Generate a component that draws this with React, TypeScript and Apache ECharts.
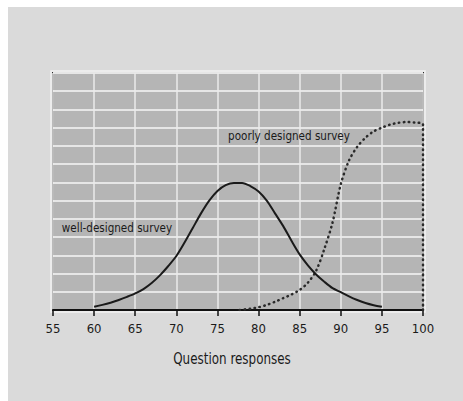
import React, { useEffect, useRef } from "react";
import * as echarts from "echarts";

const xTicks = [55, 60, 65, 70, 75, 80, 85, 90, 95, 100];
const wellX = [60, 61, 62, 63, 64, 65, 66, 67, 68, 69, 70, 71, 72, 73, 74, 75, 76, 77, 78, 79, 80, 81, 82, 83, 84, 85, 86, 87, 88, 89, 90, 91, 92, 93, 94, 95];
const wellY = [0.18, 0.28, 0.4, 0.55, 0.72, 0.91, 1.15, 1.48, 1.9, 2.4, 2.96, 3.7, 4.5, 5.3, 6.0, 6.53, 6.85, 6.97, 6.97, 6.8, 6.5, 6.0, 5.3, 4.6, 3.8, 3.05, 2.45, 1.95, 1.55, 1.2, 0.98, 0.75, 0.55, 0.38, 0.26, 0.18];
const poorX = [77.7, 78, 79, 80, 81, 82, 83, 84, 85, 86, 87, 88, 89, 90, 91, 92, 93, 94, 95, 96, 97, 98, 99, 100, 100];
const poorY = [0, 0.02, 0.07, 0.15, 0.28, 0.45, 0.65, 0.85, 1.1, 1.5, 2.15, 3.35, 4.8, 6.9, 8.2, 8.95, 9.45, 9.8, 10.0, 10.17, 10.27, 10.31, 10.28, 10.19, 0];
const labels = ["well-designed survey", "poorly designed survey"];
const axisTitle = "Question responses";

const FONT = "'Liberation Sans Narrow', 'DejaVu Sans Condensed', sans-serif";

export default function App() {
  const ref = useRef<HTMLDivElement>(null);
  useEffect(() => {
    if (!ref.current) return;
    const chart = echarts.init(ref.current, undefined, { renderer: "svg" });
    chart.setOption({
      animation: false,
      backgroundColor: "#ffffff",
      grid: {
        left: 53,
        right: 40,
        top: 73,
        bottom: 91,
        show: true,
        backgroundColor: "#b5b5b5",
        borderColor: "#2a2a2a",
        borderWidth: 2,
      },
      graphic: [
        {
          type: "rect",
          z: -10,
          silent: true,
          shape: { x: 8, y: 7, width: 455, height: 394 },
          style: { fill: "#dadada" },
        },
        {
          type: "rect",
          z: -5,
          silent: true,
          shape: { x: 51, y: 71, width: 374, height: 241 },
          style: { fill: "none", stroke: "#f2f2f2", lineWidth: 1.5 },
        },
        {
          type: "text",
          z: 10,
          x: 117,
          y: 228,
          scaleX: 0.89,
          style: {
            text: labels[0],
            fill: "#1a1a1a",
            font: `13px ${FONT}`,
            align: "center",
            verticalAlign: "middle",
          },
        },
        {
          type: "text",
          z: 10,
          x: 289,
          y: 136,
          scaleX: 0.89,
          style: {
            text: labels[1],
            fill: "#1a1a1a",
            font: `13px ${FONT}`,
            align: "center",
            verticalAlign: "middle",
          },
        },
        {
          type: "text",
          z: 10,
          x: 232,
          y: 358,
          scaleX: 0.83,
          style: {
            text: axisTitle,
            fill: "#1a1a1a",
            font: `16px ${FONT}`,
            align: "center",
            verticalAlign: "middle",
          },
        },
      ],
      xAxis: {
        type: "value",
        min: 55,
        max: 100,
        interval: 5,
        axisLine: { show: true, onZero: false, lineStyle: { color: "#111", width: 2 } },
        axisTick: { show: true, length: 6, lineStyle: { color: "#111", width: 1.5 } },
        axisLabel: {
          margin: 12,
          fontFamily: FONT,
          fontSize: 13,
          color: "#1a1a1a",
          formatter: (v: number) => (xTicks.includes(v) ? String(v) : ""),
        },
        splitLine: { show: true, lineStyle: { color: "#ebebeb", width: 1.5 } },
      },
      yAxis: {
        type: "value",
        min: 0,
        max: 13,
        interval: 1,
        axisLine: { show: false },
        axisTick: { show: false },
        axisLabel: { show: false },
        splitLine: { show: true, lineStyle: { color: "#e6e6e6", width: 2 } },
      },
      series: [
        {
          type: "line",
          data: wellX.map((x, i) => [x, wellY[i]]),
          smooth: 0.3,
          showSymbol: false,
          lineStyle: { color: "#1a1a1a", width: 2 },
          z: 5,
        },
        {
          type: "line",
          data: poorX.map((x, i) => [x, poorY[i]]),
          smooth: 0.3,
          showSymbol: false,
          lineStyle: { color: "#2a2a2a", width: 2.5, type: [0.5, 4.5], cap: "round" },
          z: 4,
        },
      ],
    });
    return () => chart.dispose();
  }, []);
  return (
    <div
      ref={ref}
      style={{ position: "fixed", left: 0, top: 0, width: 463, height: 401 }}
    />
  );
}
